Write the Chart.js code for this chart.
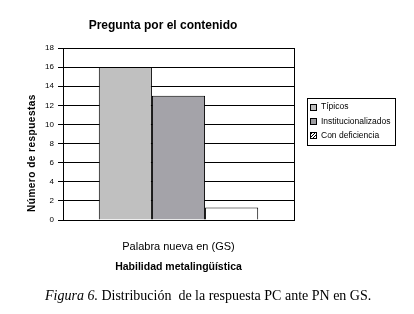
<!DOCTYPE html>
<html>
<head>
<meta charset="utf-8">
<script src="https://cdn.jsdelivr.net/npm/chart.js@4.4.1/dist/chart.umd.min.js"></script>
<style>
  html, body { margin: 0; padding: 0; background: #fff; }
  #wrap { position: relative; width: 414px; height: 314px; }
  #grafico { position: absolute; left: 0; top: 0; }
  #pie { position: absolute; left: 45px; top: 288px; font-family: "Liberation Serif", "Times New Roman", serif; font-size: 14px; color: #000; white-space: pre; }
</style>
</head>
<body>
<div id="wrap">
  <canvas id="grafico" width="414" height="314"></canvas>
  <div id="pie"><i>Figura 6.</i> Distribución  de la respuesta PC ante PN en GS.</div>
</div>
<script>
// Datos del gráfico
const categorias = ['Palabra nueva en (GS)'];
const grupos = ['Típicos', 'Institucionalizados', 'Con deficiencia'];
const tipicos = [16];
const institucionalizados = [13];
const conDeficiencia = [1.3];
const ejeYMin = 0;
const ejeYMax = 18;
const ejeYPaso = 2;

const tituloGrafico = 'Pregunta por el contenido';
const tituloY = 'Número de respuestas';
const tituloX = 'Habilidad metalingüística';

const fuente = '"Liberation Sans", Arial, sans-serif';

// Título, título del eje Y y leyenda con marco
const textos = {
    id: 'textos',
    afterDraw(chart) {
        const ctx = chart.ctx;
        const area = chart.chartArea;
        ctx.save();
        ctx.fillStyle = '#000';
        ctx.textAlign = 'center';
        ctx.textBaseline = 'middle';
        ctx.font = 'bold 12px ' + fuente;
        ctx.fillText(tituloGrafico, area.left + 100, 26);

        ctx.save();
        ctx.translate(32, area.top + 105);
        ctx.rotate(-Math.PI / 2);
        ctx.font = 'bold 10px ' + fuente;
        ctx.letterSpacing = '0.5px';
        ctx.fillText(tituloY, 0, 0);
        ctx.restore();

        // leyenda
        const lx = 307, ly = 98;
        ctx.strokeStyle = '#000';
        ctx.lineWidth = 1;
        ctx.strokeRect(lx + 0.5, ly + 0.5, 88, 47);
        ctx.font = '8.5px ' + fuente;
        ctx.textAlign = 'left';
        chart.data.datasets.forEach(function (ds, i) {
            const cy = ly + 9 + i * 14.2;
            const bx = lx + 3, by = Math.round(cy - 3);
            ctx.fillStyle = ds.legendColor;
            ctx.fillRect(bx, by, 6, 6);
            if (ds.hatch) {
                ctx.beginPath();
                ctx.moveTo(bx, by + 6); ctx.lineTo(bx + 6, by);
                ctx.moveTo(bx, by + 3); ctx.lineTo(bx + 3, by);
                ctx.moveTo(bx + 3, by + 6); ctx.lineTo(bx + 6, by + 3);
                ctx.stroke();
            }
            ctx.strokeRect(bx + 0.5, by + 0.5, 6, 6);
            ctx.fillStyle = '#000';
            ctx.fillText(ds.label, lx + 14, cy);
        });
        ctx.restore();
    }
};

const ctx = document.getElementById('grafico').getContext('2d');
new Chart(ctx, {
    type: 'bar',
    data: {
        labels: categorias,
        datasets: [
            {
                label: grupos[0],
                data: tipicos,
                backgroundColor: '#c0c0c0',
                legendColor: '#c0c0c0',
                borderColor: '#000',
                borderWidth: 1
            },
            {
                label: grupos[1],
                data: institucionalizados,
                backgroundColor: '#a4a3a9',
                legendColor: '#9c9ca0',
                borderColor: '#000',
                borderWidth: 1
            },
            {
                label: grupos[2],
                data: conDeficiencia,
                backgroundColor: '#ffffff',
                legendColor: '#ffffff',
                hatch: true,
                borderColor: '#000',
                borderWidth: 1
            }
        ]
    },
    options: {
        responsive: false,
        animation: false,
        devicePixelRatio: 1,
        categoryPercentage: 0.69,
        barPercentage: 1.0,
        layout: { padding: { left: 0, right: 120, top: 48, bottom: 0 } },
        plugins: {
            legend: { display: false },
            tooltip: { enabled: false }
        },
        scales: {
            x: {
                afterFit(scale) { scale.height = 94; },
                ticks: { color: '#000', padding: 20, font: { family: fuente, size: 11 } },
                grid: { color: '#000', lineWidth: 1, drawTicks: false },
                border: { color: '#000', width: 1 },
                title: {
                    display: true,
                    text: tituloX,
                    color: '#000',
                    font: { family: fuente, size: 10.5, weight: 'bold' },
                    padding: { top: 4, bottom: 41 }
                }
            },
            y: {
                min: ejeYMin,
                max: ejeYMax,
                afterFit(scale) { scale.width = 63; },
                ticks: { stepSize: ejeYPaso, color: '#000', padding: 4, font: { family: fuente, size: 8 } },
                grid: { color: '#000', lineWidth: 1, tickLength: 5 },
                border: { color: '#000', width: 1 }
            }
        }
    },
    plugins: [textos]
});
</script>
</body>
</html>
